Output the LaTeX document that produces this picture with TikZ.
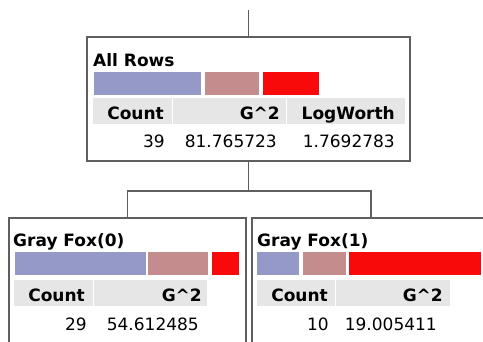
\documentclass[tikz,border=0pt]{standalone}
\usepackage{fontspec}
\setmainfont{DejaVu Sans}
\usetikzlibrary{positioning}
\definecolor{BarBlue}{HTML}{9499C8}
\definecolor{BarRose}{HTML}{C48C8C}
\definecolor{BarRed}{HTML}{F80A0A}
\definecolor{HeadGray}{HTML}{E6E6E6}
\definecolor{EdgeGray}{HTML}{5F5F5F}
\newcommand{\treefont}{\fontsize{17}{20}\selectfont}
\tikzset{
    leaf/.style = {draw=EdgeGray, line width=1.8pt, rectangle,
        anchor=north west, inner sep=0pt, outer sep=0pt},
    ratebar/.style = {rectangle, anchor=north west, inner sep=0pt,
        minimum height=23pt},
    headcell/.style = {fill=HeadGray, draw=white, line width=0.8pt,
        anchor=north west, inner sep=0pt, minimum height=27pt},
    leaftitle/.style = {anchor=base west, inner sep=0pt, font=\treefont\bfseries},
    colhead/.style = {anchor=base east, inner sep=0pt, font=\treefont\bfseries},
    colval/.style = {anchor=base east, inner sep=0pt, font=\treefont},
    link/.style = {draw=EdgeGray, line width=1.8pt}
}

\begin{document}
\begin{tikzpicture}[x=1pt, y=-1pt]
    \useasboundingbox (0,0) rectangle (483,341);
    \clip (0,0) rectangle (483,341);
    % root split
    \node [leaf, minimum width=323pt, minimum height=124pt] (root) at (87,37) {};
    \node [leaftitle] (roottitle) at (93,66) {All Rows};
    \node [ratebar, fill=BarBlue, minimum width=107pt] (rootbarA) at (94,72) {};
    \node [ratebar, fill=BarRose, minimum width=54pt] (rootbarB) at (205,72) {};
    \node [ratebar, fill=BarRed, minimum width=56pt] (rootbarC) at (263,72) {};
    \node [headcell, minimum width=80pt] (roothdA) at (92,97) {};
    \node [headcell, minimum width=114pt] (roothdB) at (172,97) {};
    \node [headcell, minimum width=119pt] (roothdC) at (286,97) {};
    \node [colhead] (rootcount) at (164,119) {Count};
    \node [colhead] (rootgsq) at (280,119) {G\^{}2};
    \node [colhead] (rootlogw) at (395,119) {LogWorth};
    \node [colval] (rootn) at (165,147) {39};
    \node [colval] (rootg) at (277,147) {81.765723};
    \node [colval] (rootlw) at (395,147) {1.7692783};
    % left leaf
    \node [leaf, minimum width=237pt, minimum height=150pt] (leftleaf) at (9,218) {};
    \node [leaftitle] (lefttitle) at (13,246) {Gray Fox(0)};
    \node [ratebar, fill=BarBlue, minimum width=131pt] (leftbarA) at (15,252) {};
    \node [ratebar, fill=BarRose, minimum width=60pt] (leftbarB) at (148,252) {};
    \node [ratebar, fill=BarRed, minimum width=27pt] (leftbarC) at (212,252) {};
    \node [headcell, minimum width=80pt] (lefthdA) at (13,279) {};
    \node [headcell, minimum width=114pt] (lefthdB) at (93,279) {};
    \node [colhead] (leftcount) at (85,301) {Count};
    \node [colhead] (leftgsq) at (202,301) {G\^{}2};
    \node [colval] (leftn) at (87,330) {29};
    \node [colval] (leftg) at (199,330) {54.612485};
    % right leaf
    \node [leaf, minimum width=238pt, minimum height=150pt] (rightleaf) at (252,218) {};
    \node [leaftitle] (righttitle) at (257,246) {Gray Fox(1)};
    \node [ratebar, fill=BarBlue, minimum width=42pt] (rightbarA) at (257,252) {};
    \node [ratebar, fill=BarRose, minimum width=43pt] (rightbarB) at (303,252) {};
    \node [ratebar, fill=BarRed, minimum width=132pt] (rightbarC) at (349,252) {};
    \node [headcell, minimum width=79pt] (righthdA) at (256,279) {};
    \node [headcell, minimum width=115pt] (righthdB) at (335,279) {};
    \node [colhead] (rightcount) at (328,301) {Count};
    \node [colhead] (rightgsq) at (443,301) {G\^{}2};
    \node [colval] (rightn) at (329,330) {10};
    \node [colval] (rightg) at (437,330) {19.005411};
    % connectors
    \coordinate (stub) at (root.north |- 0,10);
    \coordinate (split) at (root.south |- 0,191);
    \draw [link] (stub) -- (root.north);
    \draw [link] (root.south) -- (split) -| (leftleaf.north);
    \draw [link] (split) -| (rightleaf.north);
\end{tikzpicture}
\end{document}
